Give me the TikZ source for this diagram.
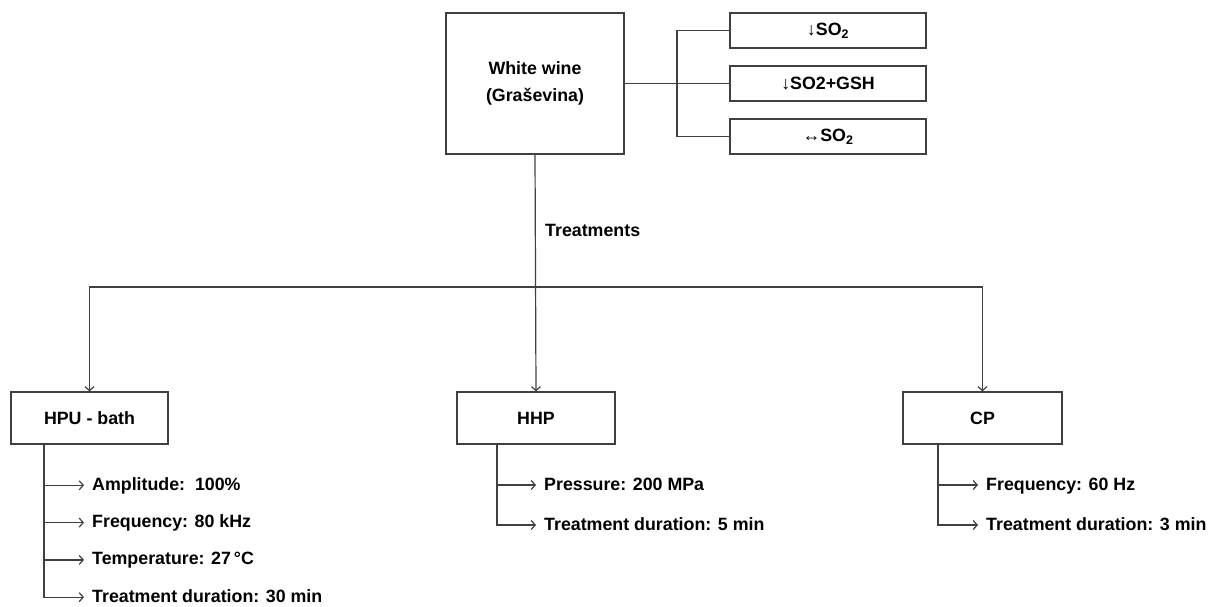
\documentclass[tikz,border=0pt]{standalone}
\usepackage{fontspec}
\setmainfont{Liberation Sans}
\usetikzlibrary{arrows.meta}
\tikzset{
    box/.style={draw=black!75, line width=1.2pt, rectangle, inner sep=0pt, align=center},
    item/.style={anchor=west, inner sep=0pt, text height=13pt, text depth=3pt},
    link/.style={draw=black!75, line width=1.2pt},
}
\begin{document}
\begin{tikzpicture}[x=1pt, y=-1pt, >={Straight Barb[length=4pt,width=9pt]}]
    \useasboundingbox (0,0) rectangle (1215,607);
    \fontsize{17.8}{27}\selectfont\bfseries
    % top part
    \node[box, minimum width=178pt, minimum height=141pt] (wine) at (535,83.5) {White wine\\(Graševina)};
    \node[box, minimum width=196pt, minimum height=35pt] (low) at (828,30.5) {↓SO\textsubscript{2}};
    \node[box, minimum width=196pt, minimum height=35pt] (lowgsh) at (828,83.5) {↓SO2+GSH};
    \node[box, minimum width=196pt, minimum height=35pt] (std) at (828,136.5) {↔SO\textsubscript{2}};
    \coordinate (bracket) at (677,83.5);
    \draw[link] (low.west) -| (bracket) |- (std.west);
    \draw[link] (wine.east) -- (lowgsh.west);
    % treatments
    \node[anchor=west, inner sep=0pt] (treat) at (545,230) {Treatments};
    \node[box, minimum width=157pt, minimum height=52pt] (hpu) at (89.5,418) {HPU - bath};
    \node[box, minimum width=158pt, minimum height=52pt] (hhp) at (536,418) {HHP};
    \node[box, minimum width=159pt, minimum height=52pt] (cp) at (982.5,418) {CP};
    \coordinate (split) at (536,287);
    \draw[link, ->] (wine.south) -- (hhp.north);
    \draw[link, ->] (split) -| (hpu.north);
    \draw[link, ->] (split) -| (cp.north);
    % parameters
    \coordinate (hpuroot) at (44,444);
    \coordinate (hhproot) at (497,444);
    \coordinate (cproot) at (938,444);
    \foreach \txt [count=\i] in {Amplitude:\ \ 100\%, Frequency: 80 kHz, Temperature: 27\,°C, Treatment duration: 30 min}
        {
            \node[item] (hpu\i) at (92,448+\i*37.3) {\txt};
            \draw[link, ->, shorten >=8pt] (hpuroot) |- (hpu\i.west);
        }
    \foreach \txt [count=\i] in {Pressure: 200 MPa, Treatment duration: 5 min}
        {
            \node[item] (hhp\i) at (544,445+\i*40) {\txt};
            \draw[link, ->, shorten >=8pt] (hhproot) |- (hhp\i.west);
        }
    \foreach \txt [count=\i] in {Frequency: 60 Hz, Treatment duration: 3 min}
        {
            \node[item] (cp\i) at (986,445+\i*40) {\txt};
            \draw[link, ->, shorten >=8pt] (cproot) |- (cp\i.west);
        }
\end{tikzpicture}
\end{document}
